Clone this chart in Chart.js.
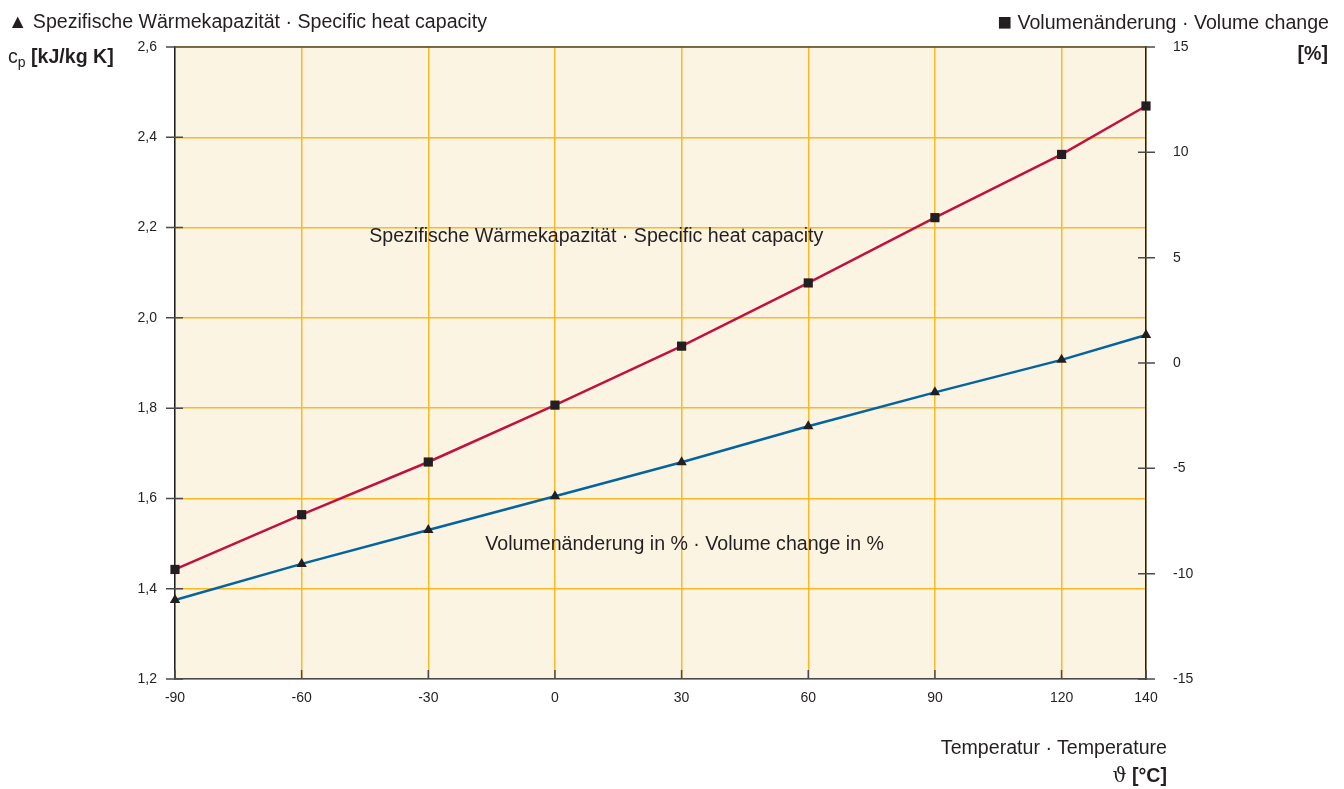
<!DOCTYPE html>
<html lang="de">

<head>
    <meta charset="UTF-8">
    <title>Spezifische Wärmekapazität und Volumenänderung</title>
    <script src="https://cdn.jsdelivr.net/npm/chart.js"></script>
    <style>
        body { margin: 0; background: #fff; font-family: "Liberation Sans", Arial, sans-serif; color: #231f20; }
        #wrap { position: relative; width: 1344px; height: 789px; }
        #chart { position: absolute; left: 0; top: 0; }
        .txt { position: absolute; font-size: 19.6px; line-height: 22px; white-space: nowrap; }
        .b { font-weight: bold; }
    </style>
</head>

<body>
    <div id="wrap">
        <canvas id="chart" width="1344" height="789"></canvas>
        <div class="txt" style="left:8px; top:10px;">▲ Spezifische Wärmekapazität · Specific heat capacity</div>
        <div class="txt" style="left:8px; top:45px;">c<span style="font-size:14px; position:relative; top:4px;">p</span> <span class="b">[kJ/kg K]</span></div>
        <div class="txt" style="right:15px; top:10px;"><span style="font-size:24px; position:relative; top:1px;">■</span> Volumenänderung · Volume change</div>
        <div class="txt b" style="right:16px; top:42px;">[%]</div>
        <div class="txt" style="right:177px; top:736px;">Temperatur · Temperature</div>
        <div class="txt" style="right:177px; top:764px;"><span style="font-family:'DejaVu Serif', serif;">ϑ</span> <span class="b">[°C]</span></div>
    </div>

    <script>
        // temperatures in °C
        const temps = [-90, -60, -30, 0, 30, 60, 90, 120, 140];
        const tempTicks = [-90, -60, -30, 0, 30, 60, 90, 120, 140];
        // specific heat capacity cp [kJ/kg K] (left axis, triangles)
        const heatCapacity = [1.375, 1.455, 1.53, 1.605, 1.68, 1.76, 1.835, 1.907, 1.962];
        // volume change [%] (right axis, squares)
        const volumeChange = [-9.8, -7.2, -4.7, -2.0, 0.8, 3.8, 6.9, 9.9, 12.2];
        // labels inside the plot, placed in data units (x = °C, y = kJ/kg K)
        const notes = [
            { text: 'Spezifische Wärmekapazität · Specific heat capacity', x: -44, y: 2.18 },
            { text: 'Volumenänderung in % · Volume change in %', x: -16.5, y: 1.497 }
        ];

        const ink = '#231f20';
        const gridColor = '#fbb924';

        // background, top line, tick marks and the in-plot labels
        const framePlugin = {
            id: 'frame',
            beforeDraw(chart) {
                const { ctx, chartArea: a } = chart;
                ctx.save();
                ctx.fillStyle = '#fcf4e3';
                ctx.fillRect(a.left, a.top, a.right - a.left, a.bottom - a.top);
                ctx.restore();
            },
            beforeDatasetsDraw(chart) {
                const { ctx, scales } = chart;
                ctx.save();
                ctx.fillStyle = ink;
                ctx.font = '19.6px "Liberation Sans", Arial, sans-serif';
                ctx.textBaseline = 'middle';
                notes.forEach(n => {
                    ctx.fillText(n.text, scales.x.getPixelForValue(n.x), scales.y.getPixelForValue(n.y));
                });
                ctx.restore();
            },
            afterDraw(chart) {
                const { ctx, chartArea: a, scales } = chart;
                ctx.save();
                ctx.strokeStyle = '#4a4a4a';
                ctx.lineWidth = 1.5;
                ctx.beginPath();
                ctx.moveTo(a.left - 8, a.top);
                ctx.lineTo(a.right + 8, a.top);
                // x ticks, pointing up into the plot
                tempTicks.forEach(v => {
                    const px = scales.x.getPixelForValue(v);
                    ctx.moveTo(px, a.bottom);
                    ctx.lineTo(px, a.bottom - 9);
                });
                // left ticks
                scales.y.ticks.forEach(t => {
                    const py = scales.y.getPixelForValue(t.value);
                    ctx.moveTo(a.left - 9, py);
                    ctx.lineTo(a.left + 8, py);
                });
                // right ticks cross the axis
                scales.y2.ticks.forEach(t => {
                    const py = scales.y2.getPixelForValue(t.value);
                    ctx.moveTo(a.right - 8, py);
                    ctx.lineTo(a.right + 9, py);
                });
                ctx.stroke();
                ctx.restore();
            }
        };

        const tickFont = { family: '"Liberation Sans", Arial, sans-serif', size: 14 };
        const comma = v => v.toFixed(1).replace('.', ',');

        new Chart(document.getElementById('chart'), {
            type: 'line',
            data: {
                datasets: [
                    {
                        label: 'Volumenänderung · Volume change',
                        data: temps.map((t, i) => ({ x: t, y: volumeChange[i] })),
                        yAxisID: 'y2',
                        borderColor: '#c0123f',
                        borderWidth: 2.5,
                        pointStyle: 'rect',
                        pointRadius: 6.5,
                        pointBackgroundColor: ink,
                        pointBorderColor: ink,
                        pointBorderWidth: 0,
                        tension: 0,
                        clip: false
                    },
                    {
                        label: 'Spezifische Wärmekapazität · Specific heat capacity',
                        data: temps.map((t, i) => ({ x: t, y: heatCapacity[i] })),
                        yAxisID: 'y',
                        borderColor: '#0563a0',
                        borderWidth: 2.5,
                        pointStyle: 'triangle',
                        pointRadius: 6,
                        pointBackgroundColor: ink,
                        pointBorderColor: ink,
                        pointBorderWidth: 0,
                        tension: 0,
                        clip: false
                    }
                ]
            },
            options: {
                responsive: false,
                animation: false,
                layout: { padding: { top: 47, left: 0, right: 0, bottom: 0 } },
                plugins: {
                    legend: { display: false },
                    tooltip: { enabled: false }
                },
                scales: {
                    x: {
                        type: 'linear',
                        min: -90,
                        max: 140,
                        afterBuildTicks: s => { s.ticks = tempTicks.map(v => ({ value: v })); },
                        afterFit: s => { s.height = 110; },
                        grid: { color: gridColor, lineWidth: 1.5, drawTicks: false },
                        border: { color: '#4a4a4a', width: 1.5 },
                        ticks: { color: ink, font: tickFont, padding: 11, maxRotation: 0 }
                    },
                    y: {
                        position: 'left',
                        min: 1.2,
                        max: 2.6,
                        afterFit: s => { s.width = 175; },
                        grid: { color: gridColor, lineWidth: 1.5, drawTicks: false },
                        border: { color: ink, width: 1.5 },
                        ticks: { stepSize: 0.2, color: ink, font: tickFont, padding: 18, callback: comma }
                    },
                    y2: {
                        position: 'right',
                        min: -15,
                        max: 15,
                        afterFit: s => { s.width = 198; },
                        grid: { drawOnChartArea: false, drawTicks: false },
                        border: { color: ink, width: 1.5 },
                        ticks: { stepSize: 5, color: ink, font: tickFont, padding: 27 }
                    }
                }
            },
            plugins: [framePlugin]
        });
    </script>
</body>

</html>
